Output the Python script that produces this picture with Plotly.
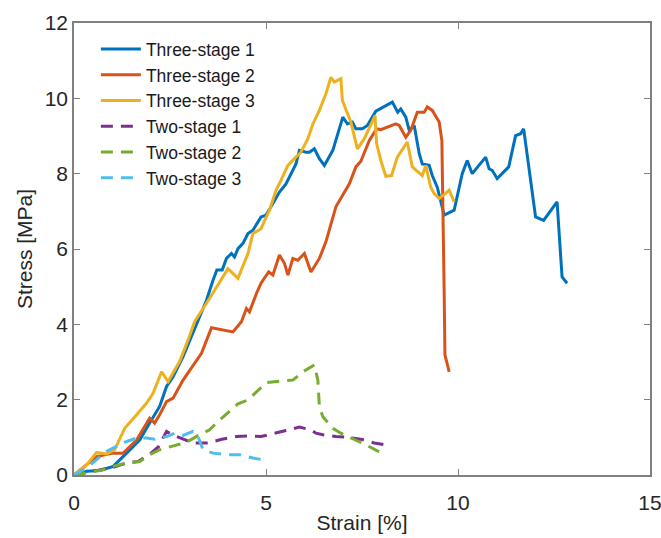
import plotly.graph_objects as go

# ---- data (strain %, stress MPa) ----
three1_x = [0, 0.33, 0.67, 1.02, 1.37, 1.71, 1.97, 2.23, 2.41, 2.58, 2.84, 3.1, 3.27, 3.45, 3.62, 3.72, 3.86, 3.97,
            4.1, 4.18, 4.27, 4.4, 4.53, 4.66, 4.87, 5.0, 5.13, 5.35, 5.52, 5.7, 5.78, 5.87, 6.04, 6.13, 6.26,
            6.39, 6.52, 6.74, 7.0, 7.12, 7.25, 7.34, 7.51, 7.64, 7.86, 8.29, 8.43, 8.51, 8.64, 8.73, 8.86,
            8.99, 9.07, 9.25, 9.33, 9.46, 9.64, 9.9, 9.98, 10.11, 10.24, 10.37, 10.72, 10.81, 10.89, 11.02,
            11.32, 11.5, 11.63, 11.71, 12.02, 12.23, 12.58, 12.71, 12.84]
three1_y = [0, 0.1, 0.12, 0.23, 0.58, 0.93, 1.38, 1.82, 2.35, 2.61, 3.14, 3.76, 4.2, 4.64, 5.17, 5.44, 5.44, 5.75,
            5.88, 5.79, 6.01, 6.15, 6.41, 6.5, 6.85, 6.9, 7.12, 7.51, 7.73, 8.09, 8.26, 8.62, 8.57, 8.57, 8.66,
            8.4, 8.22, 8.62, 9.5, 9.32, 9.37, 9.19, 9.19, 9.28, 9.66, 9.9, 9.63, 9.72, 9.5, 9.15, 9.28,
            8.53, 8.26, 8.22, 7.95, 7.64, 6.9, 7.03, 7.38, 8.0, 8.35, 8.0, 8.44, 8.13, 8.09, 7.87,
            8.18, 9.01, 9.06, 9.19, 6.85, 6.76, 7.25, 5.26, 5.09]

three2_x = [0, 0.3, 0.59, 1.02, 1.28, 1.63, 1.97, 2.1, 2.23, 2.41, 2.58, 2.84, 3.1, 3.32, 3.58, 3.88, 4.14,
            4.36, 4.49, 4.57, 4.75, 4.87, 5.07, 5.18, 5.35, 5.48, 5.57, 5.7, 5.83, 6.0, 6.17, 6.39, 6.56,
            6.82, 7.0, 7.17, 7.34, 7.47, 7.69, 7.88, 7.99, 8.38, 8.47, 8.64, 8.77, 8.94, 9.12, 9.2, 9.33,
            9.51, 9.58, 9.62, 9.64, 9.66, 9.77]
three2_y = [0, 0.25, 0.49, 0.58, 0.58, 0.93, 1.51, 1.38, 1.6, 1.95, 2.04, 2.52, 2.92, 3.23, 3.91, 3.85, 3.8,
            4.07, 4.42, 4.33, 4.82, 5.09, 5.39, 5.31, 5.84, 5.62, 5.31, 5.75, 5.7, 5.88, 5.39, 5.75, 6.19,
            7.12, 7.43, 7.73, 8.18, 8.33, 8.88, 9.19, 9.17, 9.32, 9.28, 8.97, 9.15, 9.63, 9.63, 9.77, 9.68,
            9.37, 8.88, 6.59, 4.82, 3.19, 2.74]

three3_x = [0, 0.33, 0.59, 0.85, 1.06, 1.32, 1.63, 1.89, 2.06, 2.28, 2.45, 2.75, 2.97, 3.14, 3.45, 3.75, 4.01,
            4.27, 4.53, 4.66, 4.87, 5.09, 5.26, 5.39, 5.57, 5.74, 5.91, 6.09, 6.22, 6.39, 6.56, 6.69, 6.78,
            6.95, 6.99, 7.21, 7.38, 7.56, 7.84, 7.88, 7.99, 8.12, 8.27, 8.42, 8.68, 8.81, 9.07, 9.16, 9.29,
            9.38, 9.51, 9.77, 9.9]
three3_y = [0, 0.27, 0.6, 0.56, 0.67, 1.24, 1.6, 1.91, 2.17, 2.74, 2.48, 3.01, 3.58, 4.07, 4.56, 5.04, 5.48,
            5.22, 5.88, 6.41, 6.54, 7.03, 7.56, 7.82, 8.22, 8.4, 8.57, 8.93, 9.32, 9.68, 10.12, 10.56, 10.43,
            10.52, 9.94, 9.37, 8.66, 8.93, 9.54, 8.8, 8.35, 7.93, 7.95, 8.44, 8.84, 8.18, 7.95, 8.22, 7.64,
            7.47, 7.34, 7.56, 7.25]

two1_x = [0, 0.5, 1.0, 1.37, 1.67, 1.97, 2.2, 2.41, 2.55, 2.88, 3.1, 3.5, 3.85, 4.23, 4.53, 4.87, 5.18,
          5.52, 5.87, 6.17, 6.3, 6.48, 6.82, 7.12, 7.51, 7.82, 8.21]
two1_y = [0, 0.1, 0.2, 0.32, 0.36, 0.55, 0.75, 1.16, 1.07, 0.94, 0.85, 0.85, 0.95, 1.02, 1.04, 1.02, 1.09,
          1.18, 1.27, 1.2, 1.11, 1.07, 1.02, 1.0, 0.94, 0.85, 0.78]

two2_x = [0, 0.42, 0.76, 1.02, 1.37, 1.71, 1.97, 2.23, 2.58, 2.93, 3.27, 3.53, 3.75, 3.97, 4.27, 4.53, 4.83,
          5.0, 5.37, 5.7, 5.96, 6.26, 6.35, 6.37, 6.39, 6.48, 6.74, 6.95, 7.3, 7.6, 7.9, 8.08]
two2_y = [0, 0.07, 0.14, 0.23, 0.32, 0.36, 0.54, 0.67, 0.76, 0.87, 1.07, 1.2, 1.42, 1.62, 1.89, 1.99, 2.3,
          2.45, 2.49, 2.52, 2.74, 2.92, 2.52, 2.21, 1.82, 1.55, 1.24, 1.11, 0.95, 0.8, 0.64, 0.58]

two3_x = [0, 0.33, 0.59, 0.85, 1.11, 1.37, 1.63, 1.89, 2.1, 2.41, 2.62, 2.84, 3.1, 3.23, 3.36, 3.62, 3.97,
          4.31, 4.66, 5.05]
two3_y = [0, 0.19, 0.41, 0.63, 0.76, 0.89, 0.98, 0.98, 0.95, 1.02, 1.11, 1.05, 1.16, 1.02, 0.67, 0.58, 0.54,
          0.54, 0.45, 0.38]

names = ["Three-stage 1", "Three-stage 2", "Three-stage 3", "Two-stage 1", "Two-stage 2", "Two-stage 3"]
colors = ["#0072BD", "#D95319", "#EDB120", "#7E2F8E", "#77AC30", "#4DBEEE"]
series = [(three1_x, three1_y), (three2_x, three2_y), (three3_x, three3_y),
          (two1_x, two1_y), (two2_x, two2_y), (two3_x, two3_y)]
dashes = ["solid", "solid", "solid", "12px,8px", "12px,8px", "12px,8px"]

NARROW = "Liberation Sans Narrow, Arial Narrow, Liberation Sans, sans-serif"
FONT = "Liberation Sans, Arial, sans-serif"
TXT = "#262626"

fig = go.Figure()
for (xs, ys), n, c, d in zip(series, names, colors, dashes):
    fig.add_trace(go.Scatter(x=xs, y=ys, mode="lines", name=n,
                             line=dict(color=c, width=3, dash=d)))

axis_common = dict(showline=True, linecolor="#808080", linewidth=1.5, mirror="ticks",
                   ticks="inside", ticklen=6, tickcolor="#808080", tickwidth=1.2,
                   showgrid=False, zeroline=False, automargin=False,
                   ticklabeloverflow="allow",
                   tickfont=dict(family=NARROW, size=21, color=TXT))

fig.update_layout(
    width=661, height=538,
    margin=dict(l=74, r=11, t=23, b=63),
    paper_bgcolor="white", plot_bgcolor="white",
    font=dict(family=FONT, color=TXT),
    xaxis=dict(range=[0, 15], tickvals=[0, 5, 10, 15], ticklabelstandoff=8,
               title=dict(text="Strain [%]", font=dict(family=FONT, size=21, color=TXT), standoff=2),
               **axis_common),
    yaxis=dict(range=[0, 12], tickvals=[0, 2, 4, 6, 8, 10, 12],
               title=dict(text="Stress [MPa]", font=dict(family=NARROW, size=21, color=TXT), standoff=6),
               **axis_common),
    legend=dict(x=0.038, y=0.982, xanchor="left", yanchor="top",
                bgcolor="rgba(0,0,0,0)", borderwidth=0,
                font=dict(family=FONT, size=17.5, color="#1a1a1a"),
                tracegroupgap=0, itemwidth=40),
    showlegend=True,
)

fig.write_html("out.html", config={"displayModeBar": False},
               post_script="document.body.style.margin='0';document.body.style.overflow='hidden';")
